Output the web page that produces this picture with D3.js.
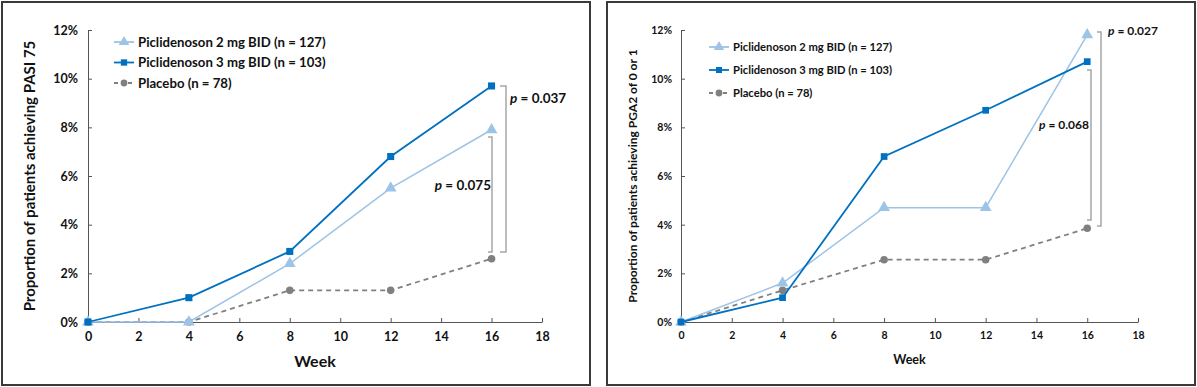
<!DOCTYPE html>
<html>
<head>
<meta charset="utf-8">
<script src="https://cdn.jsdelivr.net/npm/d3@7"></script>
<style>
  body { margin: 0; background: #fff; }
  svg { display: block; font-family: Lato, "Open Sans", sans-serif; }
</style>
</head>
<body>
<svg id="chart" width="1197" height="387"></svg>
<script>
var weeks = [0, 4, 8, 12, 16];
var xTicks = [0, 2, 4, 6, 8, 10, 12, 14, 16, 18];
var yTicks = [0, 2, 4, 6, 8, 10, 12];

var seriesNames = ["Piclidenoson 2 mg BID (n = 127)", "Piclidenoson 3 mg BID (n = 103)", "Placebo (n = 78)"];

// PASI 75
var pasi2mg = [0, 0, 2.4, 5.5, 7.9];
var pasi3mg = [0, 1.0, 2.9, 6.8, 9.7];
var pasiPlacebo = [0, 0, 1.3, 1.3, 2.6];

// PGA2 of 0 or 1
var pga2mg = [0, 1.6, 4.7, 4.7, 11.8];
var pga3mg = [0, 1.0, 6.8, 8.7, 10.7];
var pgaPlacebo = [0, 1.3, 2.56, 2.56, 3.85];

var pasiPValues = ["0.037", "0.075"];
var pgaPValues = ["0.027", "0.068"];

var colors = ["#9dc3e6", "#0070c0", "#808080"];
var symbols = [d3.symbolTriangle, d3.symbolSquare, d3.symbolCircle];

var svg = d3.select("#chart");

function drawPanel(opt) {
  var g = svg.append("g");

  g.append("rect")
    .attr("x", opt.box[0]).attr("y", opt.box[1])
    .attr("width", opt.box[2]).attr("height", opt.box[3])
    .attr("fill", "#fff").attr("stroke", "#3a3a3a").attr("stroke-width", 2);

  var x = d3.scaleLinear().domain([0, 18]).range([opt.x0, opt.x1]);
  var y = d3.scaleLinear().domain([0, 12]).range([322, 30]);

  var xAxis = g.append("g")
    .attr("transform", "translate(0,322)")
    .call(d3.axisBottom(x).tickValues(xTicks).tickSizeInner(-4).tickSizeOuter(0).tickPadding(10));
  var yAxis = g.append("g")
    .attr("transform", "translate(" + opt.x0 + ",0)")
    .call(d3.axisLeft(y).tickValues(yTicks).tickFormat(function(d) { return d + "%"; })
      .tickSizeInner(-4).tickSizeOuter(0).tickPadding(opt.tickPad));

  [xAxis, yAxis].forEach(function(a) {
    a.select(".domain").attr("stroke", "#555");
    a.selectAll(".tick line").attr("stroke", "#555");
    a.selectAll("text").attr("font-family", "Lato, sans-serif")
      .attr("font-weight", "bold").attr("font-size", opt.tickFont).attr("fill", "#111");
  });

  g.append("text")
    .attr("x", (opt.x0 + opt.x1) / 2).attr("y", opt.weekY)
    .attr("text-anchor", "middle").attr("font-weight", "bold")
    .attr("font-size", opt.titleFont).attr("fill", "#111")
    .text("Week");

  g.append("text")
    .attr("transform", "translate(" + opt.yTitleX + "," + y(6) + ") rotate(-90)")
    .attr("text-anchor", "middle").attr("font-weight", "bold")
    .attr("font-size", opt.yTitleFont).attr("fill", "#111")
    .text(opt.yTitle);

  // brackets
  opt.brackets.forEach(function(b) {
    g.append("path")
      .attr("d", "M" + (b.bx - b.tick) + "," + b.top + "H" + b.bx + "V" + b.bottom + "H" + (b.bx - b.tick))
      .attr("fill", "none").attr("stroke", "#a6a6a6").attr("stroke-width", 1.5);
    var t = g.append("text")
      .attr("x", b.lx).attr("y", b.ly).attr("dy", "0.35em")
      .attr("text-anchor", b.anchor).attr("font-weight", "bold")
      .attr("font-size", opt.pFont).attr("fill", "#111");
    t.append("tspan").attr("font-style", "italic").text("p");
    t.append("tspan").text(" = " + b.p);
  });

  var line = d3.line().x(function(d, i) { return x(weeks[i]); }).y(function(d) { return y(d); });

  // draw placebo first, then 2 mg, then 3 mg
  [2, 0, 1].forEach(function(k) {
    var vals = opt.series[k];
    g.append("path").datum(vals)
      .attr("d", line)
      .attr("fill", "none").attr("stroke", colors[k])
      .attr("stroke-width", k === 0 ? 1.5 : 1.8)
      .attr("stroke-dasharray", k === 2 ? "5,4" : null);
    g.selectAll(".m" + k).data(vals).enter().append("path")
      .attr("transform", function(d, i) { return "translate(" + x(weeks[i]) + "," + y(d) + ")"; })
      .attr("d", d3.symbol().type(symbols[k]).size(opt.markerSize[k]))
      .attr("fill", colors[k]);
  });

  // legend
  seriesNames.forEach(function(name, k) {
    var ly = opt.legendY + k * opt.legendGap;
    var lg = g.append("g").attr("transform", "translate(" + opt.legendX + "," + ly + ")");
    lg.append("line").attr("x1", 0).attr("x2", opt.legendLen).attr("y1", 0).attr("y2", 0)
      .attr("stroke", colors[k]).attr("stroke-width", 1.8)
      .attr("stroke-dasharray", k === 2 ? "4,3" : null);
    lg.append("path").attr("transform", "translate(" + opt.legendLen / 2 + ",0)")
      .attr("d", d3.symbol().type(symbols[k]).size(opt.markerSize[k] * 0.8))
      .attr("fill", colors[k]);
    lg.append("text").attr("x", opt.legendLen + 4).attr("dy", "0.35em")
      .attr("font-weight", "bold").attr("font-size", opt.legendFont).attr("fill", "#111")
      .text(name);
  });
}

drawPanel({
  box: [2, 2, 588, 383],
  x0: 88, x1: 542,
  tickFont: 12.5, tickPad: 10, titleFont: 16, yTitleFont: 15, pFont: 13.5, legendFont: 13.2,
  weekY: 367, yTitleX: 35,
  yTitle: "Proportion of patients achieving PASI 75",
  series: [pasi2mg, pasi3mg, pasiPlacebo],
  markerSize: [60, 50, 45],
  legendX: 114, legendY: 42, legendGap: 20.5, legendLen: 20,
  brackets: [
    { bx: 506, tick: 6, top: 86, bottom: 252, lx: 510, ly: 98, anchor: "start", p: pasiPValues[0] },
    { bx: 492, tick: 4, top: 137, bottom: 252, lx: 491, ly: 185, anchor: "end", p: pasiPValues[1] }
  ]
});

drawPanel({
  box: [607, 2, 588, 383],
  x0: 681, x1: 1138,
  tickFont: 10.5, tickPad: 9, titleFont: 12.5, yTitleFont: 12, pFont: 12, legendFont: 11.2,
  weekY: 364, yTitleX: 637,
  yTitle: "Proportion of patients achieving PGA2 of 0 or 1",
  series: [pga2mg, pga3mg, pgaPlacebo],
  markerSize: [60, 45, 45],
  legendX: 709, legendY: 47, legendGap: 23, legendLen: 20,
  brackets: [
    { bx: 1101, tick: 4, top: 32, bottom: 226, lx: 1108, ly: 31, anchor: "start", p: pgaPValues[0] },
    { bx: 1091, tick: 4, top: 70, bottom: 220, lx: 1089, ly: 125, anchor: "end", p: pgaPValues[1] }
  ]
});
</script>
</body>
</html>
